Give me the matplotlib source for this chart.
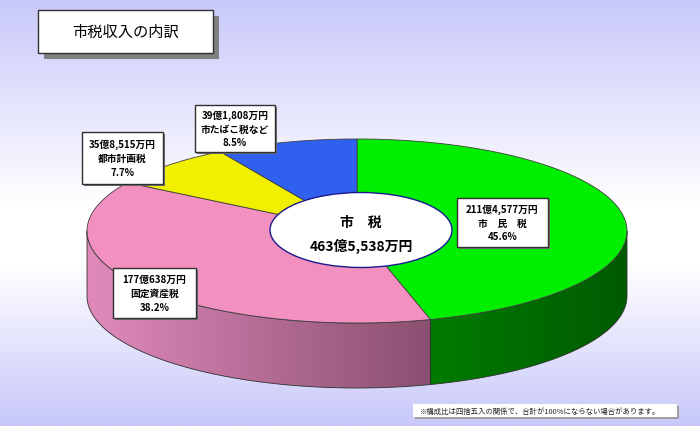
import numpy as np
import matplotlib
matplotlib.use("Agg")
import matplotlib.pyplot as plt
from matplotlib.patches import Polygon, Rectangle, Ellipse
from matplotlib.colors import LinearSegmentedColormap

plt.rcParams['font.family'] = ['Noto Sans CJK JP', 'DejaVu Sans']

# 市税の内訳（単位：万円）
names = ["市　民　税", "固定資産税", "都市計画税", "市たばこ税など"]
values = [2114577, 1770638, 358515, 391808]
top_colors = ["#00ee00", "#f290c0", "#f0f000", "#3060f0"]
side_colors = [("#007c00", "#005a00"), ("#e08abc", "#8a5070"),
               ("#c8c800", "#909000"), ("#2850c8", "#183890")]
title = "市税収入の内訳"
center_name = "市　税"
note = "※構成比は四捨五入の関係で、合計が100%にならない場合があります。"


def yen(v):
    return f"{v // 10000}億{v % 10000:,}万円"


W, H = 700, 427
fig = plt.figure(figsize=(W / 100, H / 100), dpi=100)
ax = fig.add_axes([0, 0, 1, 1])
ax.set_axis_off()

# background gradient (lavender - white - lavender)
bg = LinearSegmentedColormap.from_list(
    "bg", [(0, "#c8c8fa"), (0.48, "#ffffff"), (0.62, "#ffffff"), (1, "#c8c8fa")])
ax.imshow(np.linspace(0, 1, 256).reshape(-1, 1), cmap=bg, aspect="auto",
          extent=[0, W, H, 0], zorder=0)

# pie geometry (pixels)
cx, cy, a, b, depth = 357, 232, 270, 92, 65
total = sum(values)
fracs = np.array(values) / total
starts = 90 - 360 * np.concatenate([[0], np.cumsum(fracs)[:-1]])
ends = starts - 360 * fracs


def top_pt(t):
    t = np.radians(t)
    return cx + a * np.cos(t), cy - b * np.sin(t)


# side walls (front half only: -180..0 deg)
for i in range(len(values)):
    t0, t1 = max(ends[i], -180), min(starts[i], 0)
    if t0 >= t1:
        continue
    ts = np.linspace(t0, t1, 120)
    xs, ys = top_pt(ts)
    pts = np.vstack([np.column_stack([xs, ys]),
                     np.column_stack([xs[::-1], ys[::-1] + depth])])
    poly = Polygon(pts, closed=True, fc="none", ec="#303030", lw=0.6, zorder=3)
    ax.add_patch(poly)
    c0, c1 = side_colors[i]
    cm = LinearSegmentedColormap.from_list("s%d" % i, [c0, c1])
    im = ax.imshow(np.linspace(0, 1, 256).reshape(1, -1), cmap=cm, aspect="auto",
                   extent=[xs.min(), xs.max(), ys.max() + depth, ys.min()], zorder=2)
    clip = Polygon(pts, closed=True, transform=ax.transData)
    im.set_clip_path(clip)

# top face
for i in range(len(values)):
    ts = np.linspace(starts[i], ends[i], 200)
    xs, ys = top_pt(ts)
    pts = np.vstack([[cx, cy], np.column_stack([xs, ys])])
    ax.add_patch(Polygon(pts, closed=True, fc=top_colors[i], ec="#404040",
                         lw=0.6, zorder=4))

# center label
ax.add_patch(Ellipse((361, 231), 182, 75, fc="white", ec="#1a1a8c", lw=1, zorder=5))
ax.text(361, 223, center_name, ha="center", va="center", fontsize=10,
        fontweight="bold", zorder=6)
ax.text(361, 246, yen(total), ha="center", va="center", fontsize=10,
        fontweight="bold", zorder=6)

# slice label boxes
boxes = [(457, 199, 91, 49), (113, 269, 83, 50), (82, 133, 81, 52), (195, 106, 80, 47)]
for i, (bx, by, bw, bh) in enumerate(boxes):
    ax.add_patch(Rectangle((bx + 1.5, by + 1.5), bw, bh, fc="#707070", ec="none", zorder=6))
    ax.add_patch(Rectangle((bx, by), bw, bh, fc="white", ec="#303030", lw=1, zorder=7))
    lines = [yen(values[i]), names[i], f"{fracs[i] * 100:.1f}%"]
    for k, s in enumerate(lines):
        ax.text(bx + bw / 2, by + bh / 2 + (k - 1) * 14, s, ha="center", va="center",
                fontsize=7, fontweight="bold", zorder=8)

# title box
ax.add_patch(Rectangle((44, 17), 175, 43, fc="#808080", ec="none", zorder=6))
ax.add_patch(Rectangle((38, 11), 175, 43, fc="white", ec="#303030", lw=1, zorder=7))
ax.text(125.5, 32.5, title, ha="center", va="center", fontsize=11, zorder=8)

# footnote
ax.add_patch(Rectangle((415, 407), 264, 13, fc="#a0a0a0", ec="none", zorder=6))
ax.add_patch(Rectangle((413, 405), 264, 13, fc="white", ec="none", zorder=7))
ax.text(540, 411.5, note, ha="center", va="center", fontsize=5.3, color="#222222", zorder=8)

ax.set_xlim(0, W)
ax.set_ylim(H, 0)
fig.savefig("out.png", dpi=100)
